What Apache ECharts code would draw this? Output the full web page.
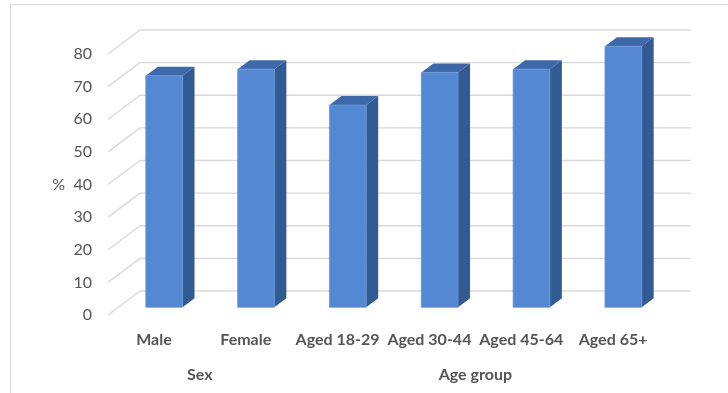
<!DOCTYPE html>
<html>
<head>
<meta charset="utf-8">
<script src="https://cdn.jsdelivr.net/npm/echarts@6/dist/echarts.min.js"></script>
<style>
  html, body { margin: 0; padding: 0; background: #ffffff; }
  #chart { width: 728px; height: 393px; }
</style>
</head>
<body>
<div id="chart"></div>
<script>
// Share (%) by sex and age group
const categories = ['Male', 'Female', 'Aged 18-29', 'Aged 30-44', 'Aged 45-64', 'Aged 65+'];
const percentValues = [71, 73, 62, 72, 73, 80];
const yTicks = [0, 10, 20, 30, 40, 50, 60, 70, 80];
const groupNames = ['Sex', 'Age group'];
const groupFirst = [0, 2];
const groupLast = [1, 5];

// Oblique depth projection: one unit of depth moves the point (0.8, -0.6) px
const DX = 0.8, DY = -0.6;
const FLOOR_DEPTH = 40;   // depth of the floor / side wall
const BAR_FRONT = 12.8;   // depth at which the bar's front face sits
const BAR_THICK = 15;     // depth of each bar

const TEXT = '#555555';
const GRID = '#d9d9d9';
const FONT = 'Lato, "Open Sans", sans-serif';

const chart = echarts.init(document.getElementById('chart'), null, { renderer: 'canvas' });

function renderWall(params, api) {
  const cs = params.coordSys;
  const v = api.value(1);
  const y = api.coord([0, v])[1];
  const left = cs.x, right = cs.x + cs.width;
  const bx = FLOOR_DEPTH * DX, by = FLOOR_DEPTH * DY;
  const style = { stroke: GRID, lineWidth: 1.3, fill: null };
  return {
    type: 'group',
    children: [
      { type: 'line', shape: { x1: left, y1: y, x2: left + bx, y2: y + by }, style },
      { type: 'line', shape: { x1: left + bx, y1: y + by, x2: right + bx, y2: y + by }, style }
    ]
  };
}

function renderBar(params, api) {
  const i = api.value(0);
  const v = api.value(1);
  const base = api.coord([i, 0]);
  const top = api.coord([i, v]);
  const w = api.size([1, 0])[0] * 0.4;
  const ox = BAR_FRONT * DX, oy = BAR_FRONT * DY;
  const tx = BAR_THICK * DX, ty = BAR_THICK * DY;
  const xl = base[0] - w / 2 + ox, xr = xl + w;
  const yb = base[1] + oy, yt = top[1] + oy;
  return {
    type: 'group',
    children: [
      { type: 'polygon', shape: { points: [[xr, yt], [xr + tx, yt + ty], [xr + tx, yb + ty], [xr, yb]] },
        style: { fill: '#335b93' } },
      { type: 'polygon', shape: { points: [[xl, yt], [xl + tx, yt + ty], [xr + tx, yt + ty], [xr, yt]] },
        style: { fill: '#3e68a8' } },
      { type: 'rect', shape: { x: xl, y: yt, width: w, height: yb - yt },
        style: { fill: '#5588d2', stroke: '#6a98dc', lineWidth: 0.8 } }
    ]
  };
}

function renderGroupLabel(params, api) {
  const k = params.dataIndex;
  const a = api.coord([groupFirst[k], 0]);
  const b = api.coord([groupLast[k], 0]);
  return {
    type: 'text',
    x: (a[0] + b[0]) / 2,
    y: a[1] + 60,
    style: {
      text: groupNames[k],
      fill: TEXT,
      font: 'bold 16px ' + FONT,
      align: 'center',
      verticalAlign: 'middle'
    }
  };
}

chart.setOption({
  animation: false,
  backgroundColor: '#ffffff',
  graphic: [
    { type: 'rect', silent: true, z: -10,
      shape: { x: 10.5, y: 4.5, width: 760, height: 450 },
      style: { fill: null, stroke: '#d9d9d9', lineWidth: 1 } }
  ],
  grid: { left: 108, right: 69, top: 54, bottom: 78, containLabel: false },
  xAxis: {
    type: 'category',
    data: categories,
    axisLine: { show: false },
    axisTick: { show: false },
    splitLine: { show: false },
    axisLabel: { color: TEXT, fontFamily: FONT, fontWeight: 'bold', fontSize: 16, margin: 17, interval: 0 }
  },
  yAxis: {
    type: 'value',
    min: 0, max: 80, interval: 10,
    name: '%',
    nameLocation: 'middle',
    nameRotate: 0,
    nameGap: 43,
    nameTextStyle: { color: TEXT, fontFamily: FONT, fontSize: 16 },
    axisLine: { show: false },
    axisTick: { show: false },
    splitLine: { show: false },
    axisLabel: { color: TEXT, fontFamily: FONT, fontSize: 16, margin: 16 }
  },
  series: [
    { type: 'custom', name: 'walls', silent: true, z: 1,
      renderItem: renderWall,
      encode: { x: 0, y: 1 },
      data: yTicks.map(v => [0, v]) },
    { type: 'custom', name: 'Percent', silent: true, z: 2,
      renderItem: renderBar,
      encode: { x: 0, y: 1 },
      data: percentValues.map((v, i) => [i, v]) },
    { type: 'custom', name: 'groups', silent: true, z: 3,
      renderItem: renderGroupLabel,
      encode: { x: 0, y: 1 },
      data: groupNames.map((g, k) => [groupFirst[k], 0]) }
  ]
});
</script>
</body>
</html>
